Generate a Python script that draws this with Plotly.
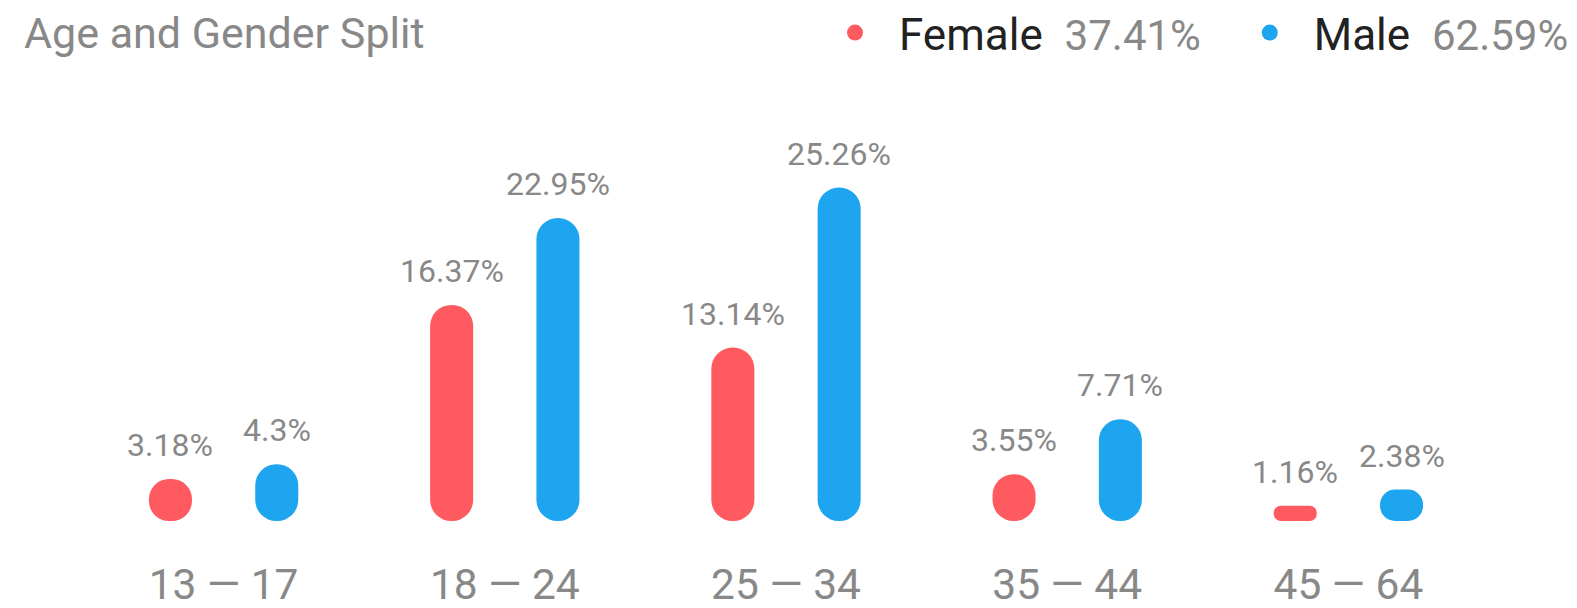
import plotly.graph_objects as go

# ---- data ----
age_groups = ["13 — 17", "18 — 24", "25 — 34", "35 — 44", "45 — 64"]
female = [3.18, 16.37, 13.14, 3.55, 1.16]
male = [4.3, 22.95, 25.26, 7.71, 2.38]
female_total = "37.41%"
male_total = "62.59%"
title_text = "Age and Gender Split"

# ---- style ----
RED = "#FF5A5F"
BLUE = "#1EA5EF"
GRAY = "#888888"
DARK = "#222222"
FONT = "Roboto, Arial, sans-serif"
BAR_W = 0.153          # bar width in category units
GROUP_OFF = 0.189      # center offset of each bar from the category center
CAT_PX = 281.2         # approx pixel width of a category (for label shifts)
W, H = 1561, 600       # page body has an 8px margin inside the 1577x608 window

fig = go.Figure()


def add_pill(values, color, side):
    center = side * GROUP_OFF
    offset = center - BAR_W / 2
    fig.add_trace(go.Bar(
        x=age_groups, y=values, base=[0] * len(values), width=BAR_W, offset=offset,
        marker=dict(color=color, cornerradius="50%", line=dict(width=0)),
        showlegend=False, hoverinfo="skip"))
    for cat, v in zip(age_groups, values):
        fig.add_annotation(
            x=cat, y=v, xref="x", yref="y", text=f"{v:g}%", showarrow=False,
            xshift=side * GROUP_OFF * CAT_PX, yshift=13, yanchor="bottom",
            font=dict(family=FONT, size=32, color=GRAY))


add_pill(female, RED, -1)
add_pill(male, BLUE, 1)

# legend entries
pct_style = f"color:{GRAY};font-size:42px"
fig.add_trace(go.Scatter(
    x=[None], y=[None], mode="markers", marker=dict(color=RED, size=22),
    name=f"Female&nbsp;&nbsp;<span style='{pct_style}'>{female_total}</span>&nbsp;&#8201;"))
fig.add_trace(go.Scatter(
    x=[None], y=[None], mode="markers", marker=dict(color=BLUE, size=22),
    name=f"Male&nbsp;&nbsp;<span style='{pct_style}'>{male_total}</span>"))

fig.update_layout(
    width=W, height=H,
    margin=dict(l=75, r=80, t=132, b=87),
    paper_bgcolor="white", plot_bgcolor="white",
    barmode="overlay",
    title=dict(text=title_text, x=16 / W, xanchor="left", xref="container",
               y=1 - 25 / H, yanchor="middle", yref="container",
               font=dict(family=FONT, size=43, color=GRAY)),
    legend=dict(orientation="h", xref="container", x=803 / W, xanchor="left",
                yref="container", y=1 - 25 / H, yanchor="middle",
                font=dict(family=FONT, size=44, color=DARK),
                itemwidth=78, bgcolor="rgba(0,0,0,0)"),
    xaxis=dict(type="category", range=[-0.5, 4.5], showgrid=False, showline=False,
               zeroline=False, ticks="", ticklabelstandoff=34, automargin=False,
               tickfont=dict(family=FONT, size=42.5, color=GRAY)),
    yaxis=dict(visible=False, range=[0, 381 / 13.2], showgrid=False, zeroline=False,
               automargin=False),
    showlegend=True,
)

fig.write_html("out.html")
